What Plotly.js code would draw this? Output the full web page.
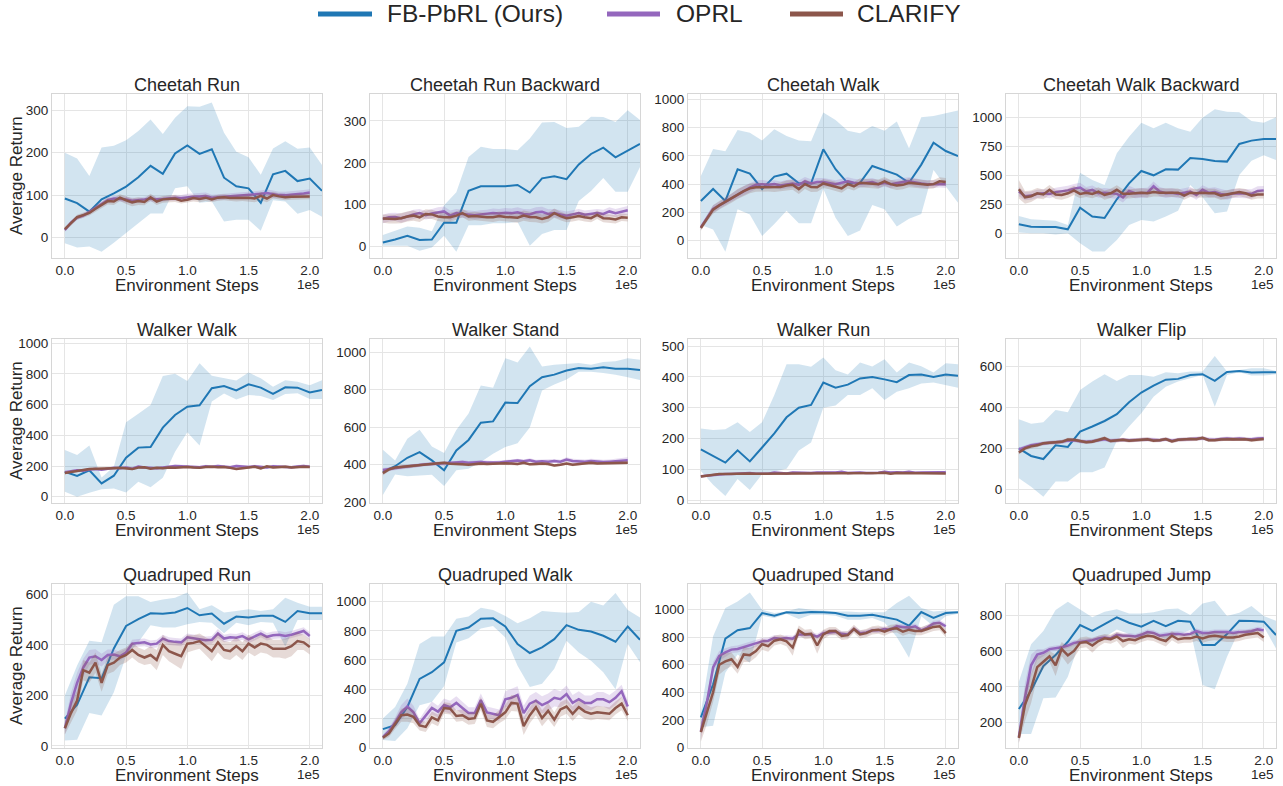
<!DOCTYPE html>
<html>
<head>
<meta charset="utf-8">
<script src="https://cdn.plot.ly/plotly-3.0.1.min.js"></script>
<style>html,body{margin:0;padding:0;background:#fff;}#chart{width:1283px;height:786px;}</style>
</head>
<body>
<div id="chart"></div>
<script>
// ---------- x values (units of 1e5 environment steps) ----------
const stepsFB = [0,0.1,0.2,0.3,0.4,0.5,0.6,0.7,0.8,0.9,1.0,1.1,1.2,1.3,1.4,1.5,1.6,1.7,1.8,1.9,2.0,2.1];
const stepsBase = [0,0.05,0.1,0.15,0.2,0.25,0.3,0.35,0.4,0.45,0.5,0.55,0.6,0.65,0.7,0.75,0.8,0.85,0.9,0.95,1.0,1.05,1.1,1.15,1.2,1.25,1.3,1.35,1.4,1.45,1.5,1.55,1.6,1.65,1.7,1.75,1.8,1.85,1.9,1.95,2.0];
const xTickVals = [0,0.5,1.0,1.5,2.0];
const xTickText = ['0.0','0.5','1.0','1.5','2.0'];
const seriesNames = ['FB-PbRL (Ours)','OPRL','CLARIFY'];
const taskTitles = ['Cheetah Run','Cheetah Run Backward','Cheetah Walk','Cheetah Walk Backward','Walker Walk','Walker Stand','Walker Run','Walker Flip','Quadruped Run','Quadruped Walk','Quadruped Stand','Quadruped Jump'];

// ---------- Cheetah Run ----------
const crFb   = [92,81,61,90,104,120,142,169,150,198,217,197,208,141,121,116,82,149,157,133,139,110];
const crFbHi = [200,186,145,212,216,229,251,278,244,282,309,308,318,247,202,189,148,210,227,209,212,171];
const crFbLo = [-13,-23,-21,-33,-12,10,34,57,57,116,121,82,85,38,42,42,16,88,85,56,65,49];
const crOprl = [18,35,47,52,60,70,80,88,92,91,90,87,88,90,92,90,91,93,94,93,95,96,97,98,94,95,96,98,99,99,100,101,103,105,102,100,100,101,102,104,106];
const crOprlStd = [4,5,5,5,6,6,7,7,6,6,7,7,6,6,7,7,6,6,7,7,8,8,8,8,7,7,7,7,7,7,8,8,8,8,9,8,8,8,8,8,8];
const crClar = [20,33,48,53,58,68,76,86,85,94,88,83,86,84,95,85,90,91,92,87,89,93,91,94,90,94,95,93,93,94,94,92,98,92,100,97,95,96,96,97,97];
const crClarStd = [5,5,6,6,6,7,7,8,8,8,9,9,9,8,8,8,8,8,8,7,7,8,8,8,7,7,7,7,8,8,9,9,10,9,8,7,7,7,7,7,7];

// ---------- Cheetah Run Backward ----------
const crbFb   = [10,17,26,16,17,57,57,133,144,144,144,147,129,163,168,161,196,221,236,213,228,245];
const crbFbHi = [28,38,48,45,37,99,130,214,238,233,233,230,258,296,297,283,286,310,309,297,325,302];
const crbFbLo = [2,2,2,-10,-2,26,-12,51,51,56,56,59,2,30,40,40,109,133,164,131,131,190];
const crbOprl = [66,70,71,68,72,77,80,75,79,82,84,74,80,78,77,75,77,78,80,79,81,80,82,78,77,82,83,78,80,77,74,77,80,76,78,80,78,84,80,84,87];
const crbOprlStd = [10,10,10,11,11,11,10,10,11,12,12,12,10,10,10,10,10,10,11,11,11,11,12,12,12,12,12,11,10,10,10,10,10,10,10,10,10,10,10,10,10];
const crbClar = [67,66,66,68,72,74,70,78,77,72,70,70,74,80,72,73,71,70,70,73,71,70,69,74,71,70,66,70,80,73,68,70,73,70,68,76,68,67,65,70,69];
const crbClarStd = [10,11,11,12,12,12,11,11,11,11,11,11,10,10,10,10,10,10,11,11,11,11,12,12,12,12,11,11,11,10,10,10,10,10,10,10,10,10,10,9,9];

// ---------- Cheetah Walk ----------
const cwFb   = [281,366,281,505,474,366,453,474,406,406,646,505,406,410,528,495,467,410,538,693,634,599];
const cwFbHi = [458,649,632,783,764,708,788,741,708,703,906,854,778,759,811,778,842,653,873,882,901,920];
const cwFbLo = [111,80,-78,222,186,33,118,212,123,123,368,163,33,73,252,222,101,156,189,500,382,269];
const cwOprl = [95,165,225,250,275,305,330,355,375,395,400,395,400,390,400,405,395,420,405,415,415,410,400,410,420,410,405,410,415,400,410,400,410,415,420,410,405,400,400,405,400];
const cwOprlStd = [15,20,25,25,25,28,30,32,32,30,30,28,28,28,30,30,30,30,30,28,28,28,28,28,28,28,28,28,28,28,28,28,28,28,28,28,28,28,28,28,28];
const cwClar = [90,160,220,250,275,300,330,350,370,378,378,378,375,380,390,395,365,400,380,378,405,395,385,370,400,385,410,405,405,400,420,400,390,395,410,405,400,395,400,420,415];
const cwClarStd = [20,25,30,30,30,32,35,35,35,32,32,30,30,32,35,35,35,35,35,32,32,32,32,30,30,30,32,32,32,32,30,30,32,32,32,30,30,30,30,28,28];

// ---------- Cheetah Walk Backward ----------
const cwbFb   = [78,57,55,55,34,221,144,132,293,431,537,500,552,549,649,641,624,618,770,799,813,813];
const cwbFbHi = [149,121,115,109,72,523,460,417,690,833,954,905,954,905,876,997,1069,1049,1043,968,954,1000];
const cwbFbLo = [6,0,0,-11,0,-86,-158,-158,-57,72,115,101,144,195,417,310,172,187,503,626,672,632];
const cwbOprl = [360,320,325,340,345,340,355,360,370,385,395,360,375,345,350,345,340,310,365,345,345,350,405,360,345,350,340,350,360,330,375,350,355,340,330,345,345,345,340,365,370];
const cwbOprlStd = [40,35,35,35,35,38,38,40,40,40,40,40,38,38,40,40,45,45,45,42,42,42,42,40,40,38,38,38,40,40,40,40,42,42,40,40,40,40,40,40,38];
const cwbClar = [380,310,320,345,335,375,335,330,345,370,340,350,340,360,330,345,375,340,340,345,350,345,355,350,350,350,350,325,350,345,350,345,345,325,335,345,355,345,325,335,335];
const cwbClarStd = [80,55,50,45,42,42,40,40,40,40,38,38,38,38,40,40,40,40,40,38,38,38,38,38,38,36,36,36,36,36,38,38,38,38,38,36,36,36,36,34,34];

// ---------- Walker Walk ----------
const wwFb   = [163,135,172,87,137,254,320,324,450,533,587,596,707,722,693,733,711,670,713,711,680,696];
const wwFbHi = [304,272,333,126,196,485,541,598,787,802,754,870,789,772,757,809,772,717,759,750,726,759];
const wwFbLo = [33,0,26,48,54,28,98,61,124,293,420,333,620,672,633,663,657,630,670,674,637,637];
const wwOprl = [160,165,172,170,178,180,176,182,188,185,190,183,196,190,188,185,190,195,200,198,195,196,192,198,195,200,194,192,200,195,193,198,196,190,198,195,196,192,197,200,196];
const wwOprlStd = [8,8,8,8,8,8,8,8,8,9,9,9,9,9,9,9,9,10,10,10,10,10,10,10,10,10,10,10,10,10,10,10,10,10,10,10,10,10,10,10,10];
const wwClar = [155,162,168,174,180,182,183,181,186,188,185,180,190,192,183,188,185,190,188,192,194,190,188,193,195,192,194,188,180,185,190,195,185,198,190,192,196,190,194,196,194];
const wwClarStd = [8,8,8,7,7,7,7,7,7,7,7,7,7,7,7,7,7,7,7,7,7,7,7,7,7,7,7,7,7,7,7,7,7,7,7,7,7,7,7,7,7];

// ---------- Walker Stand ----------
const wsFb   = [362,392,437,467,423,371,476,532,624,631,731,729,819,866,880,902,916,912,919,912,912,905];
const wsFbHi = [480,423,538,587,497,462,585,673,822,810,968,945,1030,924,933,937,942,933,947,951,968,960];
const wsFbLo = [239,348,339,341,346,286,371,379,415,458,494,515,599,796,828,854,895,895,889,880,866,852];
const wsOprl = [372,378,384,386,390,395,398,402,404,406,405,408,410,415,410,412,415,412,410,412,416,418,422,418,424,416,418,416,420,416,428,420,418,416,420,416,414,416,418,422,424];
const wsOprlStd = [10,10,10,10,10,10,10,10,10,10,10,10,10,10,10,10,10,10,10,10,10,10,10,10,10,10,10,10,10,10,12,12,12,12,12,12,12,12,12,14,16];
const wsClar = [355,375,385,388,390,392,398,400,405,408,410,405,405,402,400,404,406,404,406,408,408,406,404,410,402,404,406,404,396,400,406,400,404,408,410,406,406,408,408,410,410];
const wsClarStd = [12,10,9,8,8,8,8,8,8,8,8,8,8,8,8,8,8,8,8,8,8,8,8,8,8,8,8,8,8,8,8,8,8,8,8,8,8,8,8,8,8];

// ---------- Walker Run ----------
const wrFb   = [165,144,122,162,126,171,217,269,300,309,382,365,375,395,400,392,383,406,408,400,408,404];
const wrFbHi = [233,228,230,253,221,253,341,441,441,433,463,422,408,447,434,457,414,447,435,414,444,441];
const wrFbLo = [95,50,14,69,33,84,93,102,161,187,300,307,341,341,363,325,352,363,379,382,374,365];
const wrOprl = [78,80,82,84,85,85,86,85,88,86,87,86,90,88,87,90,89,90,88,90,90,89,90,92,88,89,90,88,88,89,92,90,91,90,92,89,90,91,90,91,91];
const wrOprlStd = [3,3,3,3,3,3,3,3,3,3,3,3,4,4,4,4,4,4,4,4,4,4,4,4,4,4,4,4,4,4,4,4,4,4,4,4,4,4,4,4,4];
const wrClar = [77,80,82,85,85,86,85,87,87,86,86,88,87,88,86,88,88,88,87,88,88,87,87,88,86,87,88,87,86,88,89,86,88,88,89,88,87,88,88,89,87];
const wrClarStd = [3,3,3,3,3,3,3,3,3,3,3,3,3,3,3,3,3,3,3,3,3,3,3,3,3,3,3,3,3,3,3,3,3,3,3,3,3,3,3,3,3];

// ---------- Walker Flip ----------
const wfFb   = [200,163,148,215,207,282,307,334,367,426,473,507,536,540,559,563,530,574,579,571,572,572];
const wfFbHi = [342,321,328,388,377,486,527,563,530,559,559,551,572,567,576,576,652,576,584,592,592,579];
const wfFbLo = [54,13,-36,38,38,83,83,106,236,307,372,453,502,527,543,559,404,559,572,556,556,563];
const wfOprl = [195,205,215,220,225,228,230,232,238,240,235,232,235,240,245,238,240,242,240,240,242,244,242,240,245,238,242,244,245,246,250,244,242,246,248,246,248,246,245,248,250];
const wfOprlStd = [10,10,10,10,10,10,10,10,10,10,10,10,10,10,10,10,10,10,10,10,10,10,10,10,10,10,10,10,10,10,10,10,10,10,10,10,10,10,10,10,10];
const wfClar = [180,200,210,215,225,228,230,232,243,242,236,230,233,240,250,236,240,242,238,240,240,245,238,240,246,234,242,245,246,245,252,240,240,244,246,245,244,245,240,244,246];
const wfClarStd = [10,10,10,9,9,9,9,9,9,9,9,9,9,9,9,9,9,9,9,9,9,9,9,9,9,9,9,9,9,9,9,9,9,9,9,9,9,9,9,9,9];

// ---------- Quadruped Run ----------
const qrFb   = [108,163,272,268,386,475,502,525,523,528,546,517,524,484,512,508,515,515,491,534,525,525];
const qrFbHi = [200,318,416,410,559,593,593,570,580,587,607,541,557,528,534,541,534,541,587,567,551,551];
const qrFbLo = [22,25,131,121,213,357,410,478,469,469,482,491,488,446,488,478,491,488,394,499,499,499];
const qrOprl = [70,170,250,310,350,355,340,360,362,355,370,405,408,410,402,405,425,415,412,410,430,425,420,418,420,445,425,430,428,435,422,432,445,432,438,440,435,440,448,455,435];
const qrOprlStd = [25,40,40,35,30,28,25,22,20,18,15,15,15,15,15,15,15,15,15,15,15,15,15,15,15,18,15,15,15,15,15,15,15,15,15,15,15,15,15,15,15];
const qrClar = [70,130,180,300,290,330,250,320,330,350,360,380,360,350,360,340,400,375,365,355,405,408,415,395,375,410,380,375,395,375,405,390,405,400,385,385,385,395,415,410,392];
const qrClarStd = [25,40,40,40,40,40,35,35,35,30,30,30,30,30,35,40,40,40,45,50,35,30,30,35,40,40,35,35,35,35,35,35,35,35,35,35,40,40,35,30,30];

// ---------- Quadruped Walk ----------
const qwFb   = [125,152,277,470,516,584,800,823,884,886,830,709,648,686,743,839,807,795,766,725,830,739];
const qwFbHi = [198,277,436,709,761,761,884,898,959,943,902,852,886,936,930,925,930,1000,975,1061,943,891];
const qwFbLo = [50,43,130,289,311,420,720,750,816,834,755,561,414,436,539,732,652,595,516,398,709,584];
const qwOprl = [70,110,170,240,280,240,165,220,270,245,290,275,305,270,235,235,325,240,230,220,330,340,360,235,300,320,290,310,340,330,365,305,330,305,305,330,330,310,340,385,280];
const qwOprlStd = [15,25,35,50,55,45,30,40,45,40,45,45,45,45,40,40,45,40,40,40,55,60,60,50,55,60,60,60,60,55,60,55,55,50,50,50,50,50,50,45,40];
const qwClar = [65,95,160,220,225,210,150,140,205,185,270,265,215,220,195,200,300,185,175,210,240,305,300,145,220,275,200,250,190,260,280,230,275,245,230,240,235,230,270,300,220];
const qwClarStd = [15,25,35,45,50,45,35,35,40,40,40,40,40,40,40,40,45,45,45,45,50,55,55,60,55,55,55,55,50,50,50,50,50,50,45,45,45,45,45,45,40];

// ---------- Quadruped Stand ----------
const qsFb   = [217,458,790,851,867,976,957,981,976,983,981,976,957,957,964,947,928,884,983,940,976,981];
const qsFbHi = [253,807,1012,1060,1125,1000,976,988,1012,1000,995,988,988,981,981,981,1048,1101,1012,988,995,988];
const qsFbLo = [145,157,542,675,614,957,940,971,933,964,964,957,928,928,940,908,802,651,952,880,952,971];
const qsOprl = [115,330,580,665,690,710,715,730,740,755,770,775,795,790,795,790,820,820,820,805,830,835,840,825,820,860,830,835,850,850,860,855,880,875,870,880,850,870,900,905,880];
const qsOprlStd = [60,50,40,35,30,25,25,25,25,25,25,22,22,20,20,20,20,20,20,20,20,20,20,20,20,20,20,20,20,20,20,20,20,20,20,20,20,20,20,20,20];
const qsClar = [110,250,400,600,625,640,585,675,670,700,750,735,775,785,770,725,850,820,825,740,820,845,845,810,815,860,820,830,850,855,840,860,865,840,855,845,845,860,875,880,830];
const qsClarStd = [70,80,70,70,60,50,50,55,50,45,40,40,35,35,35,60,35,35,35,60,35,30,30,30,30,30,30,30,30,30,30,30,30,30,30,30,30,30,30,30,30];

// ---------- Quadruped Jump ----------
const qjFb   = [276,378,516,577,651,744,712,750,787,757,735,768,738,768,763,633,633,694,768,767,763,689];
const qjFbHi = [428,637,711,828,874,832,787,819,832,809,809,815,832,837,800,865,880,794,813,850,794,768];
const qjFbLo = [137,137,336,341,456,661,627,676,720,694,661,707,661,689,716,410,386,568,716,698,735,614];
const qjOprl = [120,340,520,580,590,610,615,620,630,645,650,655,660,670,675,670,690,685,685,680,690,705,700,685,690,695,695,690,695,710,700,700,705,705,705,700,705,705,710,720,715];
const qjOprlStd = [30,80,60,30,20,15,15,15,15,15,15,15,15,15,15,15,15,15,15,15,15,15,15,15,15,15,15,15,15,15,15,15,15,15,15,15,15,15,15,15,15];
const qjClar = [115,300,390,510,540,570,520,610,575,600,645,650,630,655,670,665,680,655,665,660,675,685,680,665,655,685,665,670,670,680,670,680,685,680,675,675,680,690,695,700,675];
const qjClarStd = [30,90,80,60,40,30,60,40,50,40,30,30,40,30,25,25,25,40,25,25,25,25,25,25,30,25,25,25,25,25,25,25,25,25,25,25,25,25,25,25,25];

// ---------- y-axis settings per task ----------
const yRanges = [[-48,338],[-27,364],[-122,1037],[-213,1201],[-41,1028],[196,1070],[-9,523],[-67,735],[-8,641],[-5,1122],[-5,1187],[59,973]];
const yDticks = [100,100,200,250,200,200,100,200,200,200,200,200];

// ---------- assemble ----------
const tasks = [
  [crFb,crFbHi,crFbLo,crOprl,crOprlStd,crClar,crClarStd],
  [crbFb,crbFbHi,crbFbLo,crbOprl,crbOprlStd,crbClar,crbClarStd],
  [cwFb,cwFbHi,cwFbLo,cwOprl,cwOprlStd,cwClar,cwClarStd],
  [cwbFb,cwbFbHi,cwbFbLo,cwbOprl,cwbOprlStd,cwbClar,cwbClarStd],
  [wwFb,wwFbHi,wwFbLo,wwOprl,wwOprlStd,wwClar,wwClarStd],
  [wsFb,wsFbHi,wsFbLo,wsOprl,wsOprlStd,wsClar,wsClarStd],
  [wrFb,wrFbHi,wrFbLo,wrOprl,wrOprlStd,wrClar,wrClarStd],
  [wfFb,wfFbHi,wfFbLo,wfOprl,wfOprlStd,wfClar,wfClarStd],
  [qrFb,qrFbHi,qrFbLo,qrOprl,qrOprlStd,qrClar,qrClarStd],
  [qwFb,qwFbHi,qwFbLo,qwOprl,qwOprlStd,qwClar,qwClarStd],
  [qsFb,qsFbHi,qsFbLo,qsOprl,qsOprlStd,qsClar,qsClarStd],
  [qjFb,qjFbHi,qjFbLo,qjOprl,qjOprlStd,qjClar,qjClarStd]
];

const W = 1283, H = 786;
const colsPx = [[52,322],[370,640],[688,958],[1006,1276]];
const rowsPx = [[94,258],[339,503],[584,748]];
const FONT = 'Liberation Sans, Arial, sans-serif';
const TXT = '#262626';
const GRID = '#e5e5e5';
const EDGE = '#d6d6d6';
const C_FB = '#1f77b4', C_OP = '#9467bd', C_CL = '#8c564b';

function band(x, hi, lo, xa, ya, color) {
  return {x: x.concat(x.slice().reverse()), y: hi.concat(lo.slice().reverse()),
    xaxis: xa, yaxis: ya, type: 'scatter', mode: 'lines', fill: 'toself',
    fillcolor: color, line: {width: 0}, hoverinfo: 'skip', showlegend: false};
}
function line(x, y, xa, ya, color, w, name) {
  return {x: x, y: y, xaxis: xa, yaxis: ya, type: 'scatter', mode: 'lines',
    line: {color: color, width: w}, name: name, showlegend: false};
}

const data = [];
const layout = {
  width: W, height: H, margin: {l: 0, r: 0, t: 0, b: 0},
  paper_bgcolor: '#ffffff', plot_bgcolor: '#ffffff',
  font: {family: FONT, color: TXT},
  showlegend: false, annotations: [], shapes: []
};

tasks.forEach((t, i) => {
  const n = i + 1;
  const xa = 'x' + (n === 1 ? '' : n), ya = 'y' + (n === 1 ? '' : n);
  const [fb, fbHi, fbLo, op, opStd, cl, clStd] = t;
  data.push(band(stepsFB, fbHi, fbLo, xa, ya, 'rgba(31,119,180,0.2)'));
  data.push(line(stepsFB, fb, xa, ya, C_FB, 2, seriesNames[0]));
  data.push(band(stepsBase, op.map((v, k) => v + opStd[k]), op.map((v, k) => v - opStd[k]), xa, ya, 'rgba(148,103,189,0.22)'));
  data.push(line(stepsBase, op, xa, ya, C_OP, 2.5, seriesNames[1]));
  data.push(band(stepsBase, cl.map((v, k) => v + clStd[k]), cl.map((v, k) => v - clStd[k]), xa, ya, 'rgba(140,86,75,0.22)'));
  data.push(line(stepsBase, cl, xa, ya, C_CL, 2.5, seriesNames[2]));

  const col = i % 4, row = Math.floor(i / 4);
  const cx = colsPx[col], ry = rowsPx[row];
  const xd = [cx[0] / W, cx[1] / W], yd = [1 - ry[1] / H, 1 - ry[0] / H];
  const common = {showgrid: true, gridcolor: GRID, gridwidth: 1, zeroline: false,
    showline: true, mirror: true, linecolor: EDGE, linewidth: 1, ticks: '',
    tickfont: {family: FONT, size: 13.5, color: TXT}, fixedrange: true};
  layout['xaxis' + (n === 1 ? '' : n)] = Object.assign({}, common, {
    domain: xd, anchor: ya, range: [-0.105, 2.1], tickmode: 'array',
    tickvals: xTickVals, ticktext: xTickText});
  layout['yaxis' + (n === 1 ? '' : n)] = Object.assign({}, common, {
    domain: yd, anchor: xa, range: yRanges[i], tickmode: 'linear', tick0: 0, dtick: yDticks[i]});

  const midX = (cx[0] + cx[1]) / 2 / W;
  layout.annotations.push({text: taskTitles[i], xref: 'paper', yref: 'paper', x: midX,
    y: 1 - (ry[0] - 9) / H, xanchor: 'center', yanchor: 'middle', showarrow: false,
    font: {family: FONT, size: 18, color: TXT}});
  layout.annotations.push({text: 'Environment Steps', xref: 'paper', yref: 'paper', x: midX,
    y: 1 - (ry[1] + 27) / H, xanchor: 'center', yanchor: 'middle', showarrow: false,
    font: {family: FONT, size: 17, color: TXT}});
  layout.annotations.push({text: '1e5', xref: 'paper', yref: 'paper', x: cx[1] / W,
    y: 1 - (ry[1] + 26) / H, xanchor: 'right', yanchor: 'middle', showarrow: false,
    font: {family: FONT, size: 13.5, color: TXT}});
  if (col === 0) {
    layout.annotations.push({text: 'Average Return', xref: 'paper', yref: 'paper', x: 16 / W,
      y: 1 - (ry[0] + ry[1]) / 2 / H, xanchor: 'center', yanchor: 'middle', textangle: -90,
      showarrow: false, font: {family: FONT, size: 17, color: TXT}});
  }
});

// ---------- legend (top) ----------
const legendItems = [[318, 372, 385, C_FB], [607, 660, 674, C_OP], [790, 843, 855, C_CL]];
legendItems.forEach((it, k) => {
  const yy = 1 - 14 / H;
  layout.shapes.push({type: 'line', xref: 'paper', yref: 'paper', x0: it[0] / W, x1: it[1] / W,
    y0: yy, y1: yy, line: {color: it[3], width: 5}});
  layout.annotations.push({text: seriesNames[k], xref: 'paper', yref: 'paper', x: it[2] / W, y: yy,
    xanchor: 'left', yanchor: 'middle', showarrow: false, font: {family: FONT, size: 24.5, color: TXT}});
});

Plotly.newPlot('chart', data, layout, {displayModeBar: false, staticPlot: true});
</script>
</body>
</html>
